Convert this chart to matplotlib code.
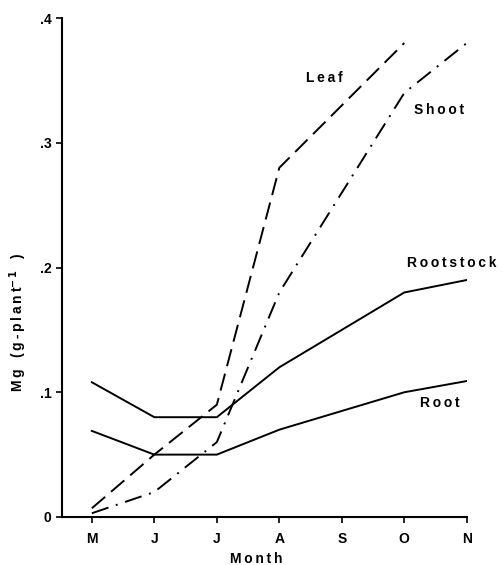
import numpy as np
import matplotlib.pyplot as plt

plt.rcParams["font.family"] = ["Liberation Sans", "DejaVu Sans"]
plt.rcParams["font.weight"] = "bold"

months = ["M", "J", "J", "A", "S", "O", "N"]

leaf_x = [0, 1, 2, 3, 4, 5]
leaf = [0.007, 0.05, 0.09, 0.28, 0.33, 0.38]

shoot_x = [0, 1, 2, 3, 4, 5, 6]
shoot = [0.003, 0.02, 0.06, 0.18, 0.26, 0.34, 0.38]

rootstock_x = [0, 1, 2, 3, 5, 6]
rootstock = [0.108, 0.08, 0.08, 0.12, 0.18, 0.19]

root_x = [0, 1, 2, 3, 5, 6]
root = [0.069, 0.05, 0.05, 0.07, 0.10, 0.109]


def spaced(s):
    # old typewriter-style letter spacing
    return "\u2009".join(s)


fig = plt.figure(figsize=(5.03, 5.65), dpi=100)
ax = fig.add_axes([0.123, 0.085, 0.805, 0.883])

ax.plot(leaf_x, leaf, color="black", lw=1.4, dashes=(9, 4))
ax.plot(shoot_x, shoot, color="black", lw=1.4, dashes=(9, 4, 1, 4))
ax.plot(rootstock_x, rootstock, color="black", lw=1.4)
ax.plot(root_x, root, color="black", lw=1.4)

ax.text(3.42, 0.352, spaced("Leaf"), fontsize=10, fontweight="bold", va="center")
ax.text(5.15, 0.326, spaced("Shoot"), fontsize=10, fontweight="bold", va="center")
ax.text(5.05, 0.204, spaced("Rootstock"), fontsize=10, fontweight="bold", va="center")
ax.text(5.25, 0.091, spaced("Root"), fontsize=10, fontweight="bold", va="center")

ax.set_xlim(-0.48, 6)
ax.set_ylim(0, 0.4)
ax.set_xticks(range(len(months)))
ax.set_xticklabels(months)
ax.set_yticks([0, 0.1, 0.2, 0.3, 0.4])
ax.set_yticklabels(["0", ".1", ".2", ".3", ".4"])

for side in ["top", "right"]:
    ax.spines[side].set_visible(False)
for side in ["left", "bottom"]:
    ax.spines[side].set_linewidth(1.5)
ax.tick_params(direction="out", length=4, width=1.2, labelsize=10)
ax.tick_params(axis="x", pad=7)

ax.set_xlabel(spaced("Month"), fontsize=10, fontweight="bold")
ax.xaxis.set_label_coords(0.48, -0.070)
ax.set_ylabel("M\u2009g   (\u2009g\u2009-\u2009p\u2009l\u2009a\u2009n\u2009t$^{-\u20091}$   )",
              fontsize=10, fontweight="bold")
ax.yaxis.set_label_coords(-0.082, 0.391)

plt.savefig("out.png", dpi=100)
